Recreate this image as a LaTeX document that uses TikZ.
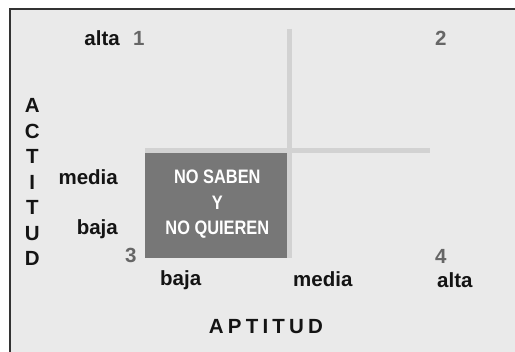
\documentclass[tikz,border=0pt]{standalone}
\usepackage{fontspec}
\setmainfont{Liberation Sans}
\newfontfamily\narrowfont{Liberation Sans}[FakeStretch=0.84]
\definecolor{bgray}{HTML}{EAEAEA}
\definecolor{lgray}{HTML}{D2D2D2}
\definecolor{dgray}{HTML}{777777}
\definecolor{ngray}{HTML}{666666}
\definecolor{fgray}{HTML}{333333}
\tikzset{
  lbl/.style={inner sep=0pt, font=\fontsize{20.5}{25.5}\selectfont\bfseries, text=black!92},
  num/.style={inner sep=0pt, font=\fontsize{20.5}{25.5}\selectfont\bfseries, text=ngray},
  boxtxt/.style={inner sep=0pt, align=center, text=white, font=\fontsize{19.5}{25.5}\selectfont\narrowfont\bfseries},
  grid/.style={draw=lgray, line width=5.3pt}
}
\begin{document}
\begin{tikzpicture}[x=1pt,y=-1pt]
\useasboundingbox (0,0) rectangle (515,352);
\fill[bgray] (10,9) rectangle (515,352);
\draw[fgray, line width=1.3pt] (10,352) -- (10,9) -- (515,9);
% grid lines
\draw[grid] (145,150.3) -- (430,150.3);
\draw[grid] (289.7,29) -- (289.7,258);
% dark box
\node[fill=dgray, inner sep=0pt, minimum width=142pt, minimum height=105pt, anchor=north west] (box) at (145,153) {};
\node[boxtxt, anchor=base] (boxt) at (217.3,235) {NO SABEN\\Y\\NO QUIEREN};
% top labels
\node[lbl, anchor=base east] (altaL) at (120,45.7) {alta};
\node[num, anchor=base west] (n1) at (133,45.7) {1};
\node[num, anchor=base west] (n2) at (435,46) {2};
\node[lbl, anchor=base east] (mediaL) at (118,185) {media};
\node[lbl, anchor=base east] (bajaL) at (118,235) {baja};
\node[num, anchor=base west] (n3) at (125,263) {3};
\node[num, anchor=base west] (n4) at (435,264) {4};
\node[lbl, anchor=base west] (bajaB) at (160,286) {baja};
\node[lbl, anchor=base west] (mediaB) at (293,287) {media};
\node[lbl, anchor=base west] (altaB) at (437,288) {alta};
\node[lbl, anchor=base] (aptitud) at (266,334) {A\kern4.2pt P\kern4.2pt T\kern4.2pt I\kern4.2pt T\kern4.2pt U\kern4.2pt D};
\node[lbl, align=center, anchor=base] (actitud) at (32.3,266) {A\\C\\T\\I\\T\\U\\D};
\end{tikzpicture}
\end{document}
